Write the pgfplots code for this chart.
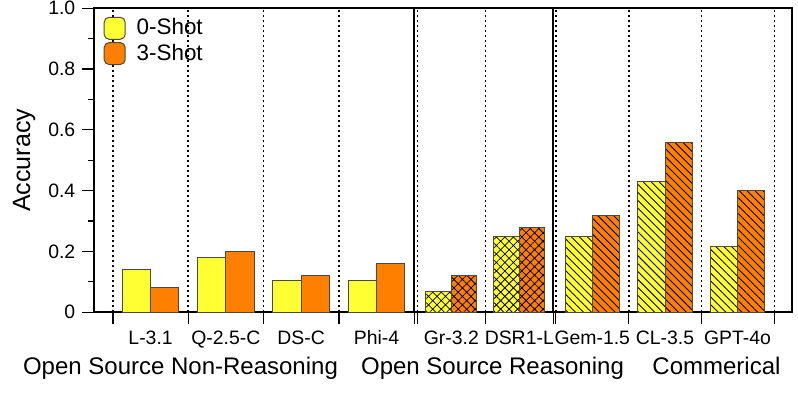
\documentclass[border=0pt]{standalone}
\usepackage{fontspec}
\setmainfont{Liberation Sans}
\usepackage{pgfplots}
\pgfplotsset{compat=1.18}
\usetikzlibrary{patterns.meta}

\definecolor{shot0}{HTML}{FFFF33}
\definecolor{shot3}{HTML}{FF8000}
\definecolor{edge}{HTML}{4A4A40}

\pgfplotsset{
  barbase/.style={ybar, bar shift=0pt, draw=edge, line width=0.5pt},
  pone/.style={barbase, bar width=28.3},
  ptwo/.style={barbase, bar width=25.6,
    postaction={pattern color=black, pattern={Hatch[angle=45,distance=3pt,line width=0.4pt]}}},
  pthree/.style={barbase, bar width=27.3,
    postaction={pattern color=black, pattern={Lines[angle=-45,distance=2.8pt,line width=0.45pt]}}},
  swatch/.style={legend image code/.code={%
    \draw[##1,rounded corners=2.5pt] (0pt,-5.5pt) rectangle (10.5pt,5.5pt);
    \path (14pt,0pt);}},
}

\begin{document}
\begin{tikzpicture}
\begin{axis}[
  name=ax,
  scale only axis, width=348.7pt, height=152pt,
  xmin=94.3, xmax=791.7, ymin=0, ymax=1,
  clip=false,
  axis line style={line width=0.9pt},
  tick align=outside, tick pos=left,
  major tick length=6pt, minor tick length=3pt,
  tick style={black, line width=0.6pt},
  xtick={113,188.3,263.6,338.9,414.2,417.3,485.3,553.3,555.7,628.7,701.3,774.3},
  xticklabels={},
  xmajorgrids,
  x grid style={black, line width=0.8pt, dash pattern=on 1pt off 1.5pt},
  extra x ticks={150.6,225.9,301.2,376.5,451.3,519.3,592.3,665,737.5},
  extra x tick labels={L-3.1,Q-2.5-C,DS-C,Phi-4,Gr-3.2,DSR1-L,Gem-1.5,CL-3.5,GPT-4o},
  extra x tick style={grid=none, tick style={draw=none}},
  xticklabel style={font=\fontsize{9.7}{11}\selectfont, anchor=base, yshift=-10pt},
  ytick={0,0.2,0.4,0.6,0.8,1},
  yticklabels={0,0.2,0.4,0.6,0.8,1.0},
  minor ytick={0.1,0.3,0.5,0.7,0.9},
  yticklabel style={font=\fontsize{9.7}{11}\selectfont},
  ylabel={Accuracy},
  every axis y label/.style={at={(axis description cs:-0.0922,0.5)}, rotate=90, anchor=base, font=\fontsize{12.5}{14}\selectfont},
  legend style={draw=none, fill=none, at={(rel axis cs:0,1)}, anchor=north west,
    xshift=1.5pt, yshift=-1pt, font=\fontsize{11.2}{12}\selectfont, row sep=-1pt},
  legend cell align=left,
]
% open source non-reasoning
\addplot[pone, fill=shot0, swatch] coordinates {(136.45,0.14) (211.75,0.18) (287.05,0.105) (362.35,0.105)};
\addlegendentry{0-Shot}
\addplot[pone, fill=shot3, swatch] coordinates {(164.75,0.08) (240.05,0.20) (315.35,0.12) (390.65,0.16)};
\addlegendentry{3-Shot}
% open source reasoning
\addplot[ptwo, fill=shot0, forget plot] coordinates {(438.5,0.07) (506.5,0.25)};
\addplot[ptwo, fill=shot3, forget plot] coordinates {(464.1,0.12) (532.1,0.28)};
% commercial
\addplot[pthree, fill=shot0, forget plot] coordinates {(578.65,0.25) (651.35,0.43) (723.85,0.215)};
\addplot[pthree, fill=shot3, forget plot] coordinates {(605.95,0.32) (678.65,0.56) (751.15,0.40)};

\draw[line width=0.9pt] (axis cs:414.2,0) -- (axis cs:414.2,1);
\draw[line width=0.9pt] (axis cs:553.3,0) -- (axis cs:553.3,1);

\node[anchor=base, yshift=-31.35pt, font=\fontsize{12}{14}\selectfont] at (axis cs:180.5,0) {Open Source Non-Reasoning};
\node[anchor=base, yshift=-31.35pt, font=\fontsize{12}{14}\selectfont] at (axis cs:492.5,0) {Open Source Reasoning};
\node[anchor=base, yshift=-31.35pt, font=\fontsize{12}{14}\selectfont] at (axis cs:716.5,0) {Commerical};
\end{axis}
\pgfresetboundingbox
\path[use as bounding box] ([shift={(-47.15pt,-40.85pt)}]ax.south west) rectangle ([shift={(3.15pt,4.15pt)}]ax.north east);
\end{tikzpicture}
\end{document}
